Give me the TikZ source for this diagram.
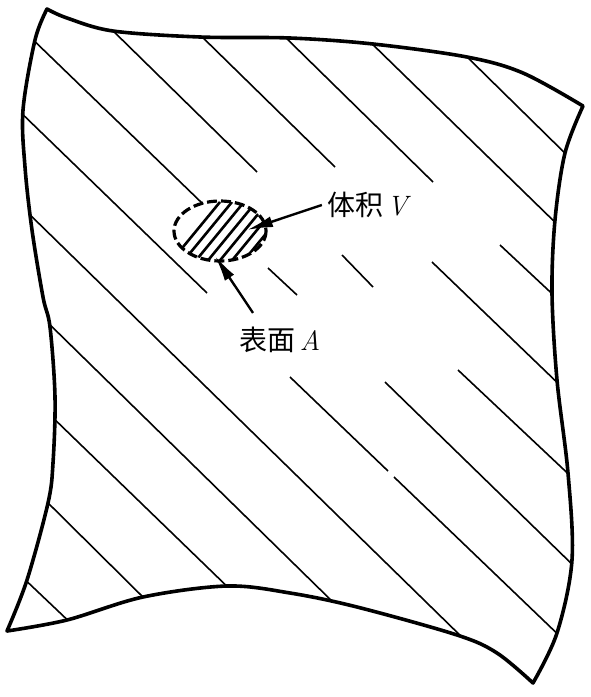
\documentclass[tikz,border=0pt]{standalone}
\usepackage{fontspec}
\newfontfamily\cjk{Noto Sans CJK SC}
\usetikzlibrary{arrows.meta}
\begin{document}
\begin{tikzpicture}[x=1pt,y=-1pt,
  outline/.style={line width=3.6pt, line join=round},
  hatch/.style={line width=1.6pt},
  vhatch/.style={line width=2.6pt},
  vbound/.style={line width=3.2pt, dash pattern=on 10pt off 4pt},
  arr/.style={line width=2.4pt, -{Latex[length=26pt,width=11pt]}},
  lbl/.style={font=\fontsize{28pt}{30pt}\selectfont, inner sep=2pt}]
\useasboundingbox (0,0) rectangle (591,697);
\def\outlinepath{plot[smooth,tension=0.55] coordinates {(47,9) (67,18) (113,31) (200,37) (290,38) (373,44) (467,57) (523,73) (583,106)}
 -- plot[smooth,tension=0.55] coordinates {(583,106) (565,153) (555,220) (552,293) (557,380) (568,473) (572,560) (557,633) (533,683)}
 -- plot[smooth,tension=0.55] coordinates {(533,683) (497,653) (457,635) (357,607) (290,593) (227,586) (143,597) (67,620) (7,631)}
 -- plot[smooth,tension=0.55] coordinates {(7,631) (27,580) (48,503) (53,463) (55,397) (50,327) (43,297) (32,230) (25,167) (23,110) (35,40) (47,9)} -- cycle}
% main hatching
\begin{scope}
\clip \outlinepath;
\foreach \xa/\ya/\xb/\yb in {25/32/203/204, 103/21/257/172, 192/27/335/167,
  280/32/433/182, 363/35/563/230, 458/48/575/163,
  13/105/207/293, 22/207/470/645, 40/315/338/607,
  47/412/237/596, 38/493/153/607, 17/572/77/629,
  290/377/388/471, 394/477/567/643, 385/382/578/570,
  458/370/578/483, 432/262/565/390, 500/245/562/303,
  268/268/297/295, 342/255/373/287}
  \draw[hatch] (\xa,\ya) -- (\xb,\yb);
\end{scope}
\draw[outline] \outlinepath;
% small volume
\begin{scope}
\clip (220,231) ellipse [x radius=46, y radius=30];
\foreach \k in {0,...,8} \draw[vhatch] (160+12*\k,275) -- ++(60,-73);
\end{scope}
\draw[vbound] (220,231) ellipse [x radius=46, y radius=30];
% labels and arrows
\node[lbl] (vol) at (369,205) {{\cjk 体积}\hspace{4pt}\textit{V}};
\node[lbl] (surf) at (280,340) {{\cjk 表面}\hspace{4pt}\textit{A}};
\coordinate (vtip) at (247,230);
\coordinate (stip) at (215,256);
\draw[arr] ([xshift=-3pt]vol.west) -- (vtip);
\draw[arr] ([xshift=-27pt,yshift=12pt]surf.north) -- (stip);
\end{tikzpicture}
\end{document}
